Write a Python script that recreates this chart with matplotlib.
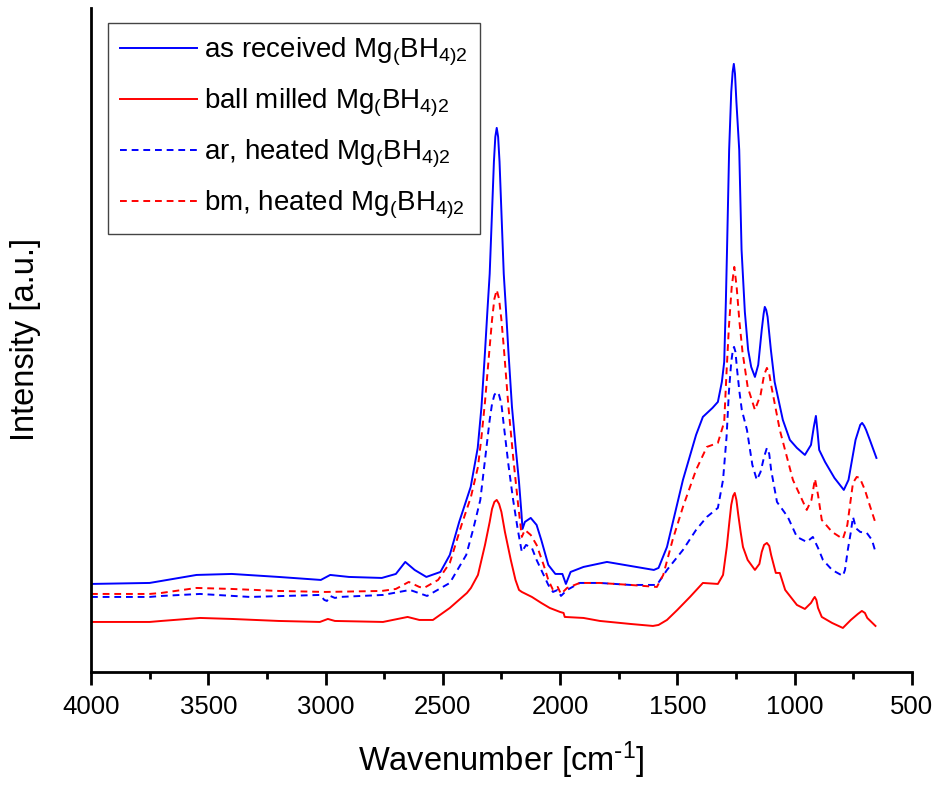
import matplotlib
matplotlib.use("Agg")
import matplotlib.pyplot as plt
from matplotlib.ticker import MultipleLocator
import numpy as np

plt.rcParams['font.family'] = ['Liberation Sans', 'DejaVu Sans']
plt.rcParams['mathtext.default'] = 'regular'

# as received Mg(BH4)2  (wavenumber, intensity a.u.)
ar_wn = [4000, 3750, 3700, 3600, 3550, 3400, 3200, 3020, 2980, 2900, 2760, 2700, 2660, 2620,
         2570, 2510, 2470, 2430, 2381, 2351, 2335, 2320, 2310, 2300, 2290, 2282, 2276, 2270,
         2264, 2258, 2250, 2240, 2230, 2220, 2205, 2189, 2175, 2165, 2160, 2150, 2125, 2100,
         2080, 2050, 2020, 1990, 1975, 1955, 1900, 1800, 1700, 1600, 1580, 1544, 1476, 1420,
         1391, 1350, 1327, 1310, 1300, 1293, 1288, 1279, 1270, 1264, 1259, 1254, 1248, 1236,
         1226, 1212, 1198, 1185, 1169, 1155, 1140, 1132, 1127, 1121, 1115, 1101, 1085, 1050,
         1020, 990, 956, 930, 918, 909, 902, 895, 870, 830, 790, 770, 740, 720, 712, 703,
         695, 679, 651]
ar_int = [88, 89, 91, 95, 97, 98, 95, 92, 97, 95, 94, 98, 110, 102,
          95, 100, 117, 150, 185, 224, 265, 320, 360, 398, 460, 510, 535, 544,
          535, 510, 460, 398, 360, 320, 265, 224, 190, 160, 143, 150, 154, 147,
          132, 107, 98, 98, 88, 100, 105, 110, 106, 102, 104, 125, 192, 237,
          255, 264, 270, 290, 310, 370, 422, 522, 580, 600, 608, 598, 570, 522,
          422, 360, 322, 305, 295, 307, 342, 358, 365, 362, 355, 322, 290, 252,
          232, 224, 217, 227, 245, 256, 240, 222, 210, 194, 182, 192, 232, 247, 249, 246,
          242, 232, 214]

# ball milled Mg(BH4)2
bm_wn = [4000, 3750, 3700, 3535, 3400, 3200, 3024, 2990, 2960, 2755, 2650, 2600, 2542, 2470,
         2397, 2380, 2350, 2320, 2300, 2290, 2280, 2270, 2260, 2250, 2235, 2210, 2190, 2175,
         2163, 2120, 2080, 2044, 2000, 1985, 1980, 1900, 1830, 1700, 1604, 1580, 1544, 1500,
         1446, 1391, 1327, 1305, 1289, 1278, 1270, 1262, 1255, 1248, 1240, 1230, 1220, 1200,
         1169, 1150, 1140, 1130, 1118, 1108, 1100, 1080, 1063, 1040, 990, 956, 930, 920, 914,
         907, 900, 884, 840, 794, 760, 730, 713, 700, 690, 655]
bm_int = [50, 50, 51, 54, 53, 51, 50, 53, 51, 50, 55, 52, 52, 64,
          79, 84, 97, 127, 150, 163, 170, 172, 168, 160, 140, 112, 92, 82,
          80, 75, 69, 64, 60, 59, 55, 54, 51, 48, 46, 47, 52, 62,
          75, 89, 88, 97, 125, 150, 167, 176, 179, 172, 157, 140, 125, 112,
          102, 108, 120, 127, 129, 126, 117, 99, 99, 82, 67, 63, 69, 73, 75,
          72, 64, 55, 49, 44, 52, 58, 61, 59, 54, 46]

# ar, heated Mg(BH4)2
arh_wn = [4000, 3750, 3700, 3535, 3322, 3024, 3005, 2994, 2980, 2960, 2940, 2755, 2640, 2567,
          2470, 2400, 2370, 2340, 2320, 2300, 2290, 2280, 2270, 2260, 2250, 2240, 2220, 2200,
          2180, 2163, 2145, 2120, 2100, 2070, 2050, 2030, 2010, 1996, 1970, 1916, 1830, 1700,
          1587, 1544, 1476, 1420, 1374, 1327, 1305, 1290, 1280, 1270, 1263, 1258, 1252, 1245,
          1235, 1225, 1203, 1180, 1161, 1145, 1130, 1118, 1108, 1100, 1075, 1029, 990, 948,
          922, 900, 879, 840, 794, 785, 773, 760, 751, 745, 740, 720, 692, 670, 655]
arh_int = [75, 75, 76, 78, 75, 77, 72, 71, 76, 74, 75, 77, 82, 76,
           89, 117, 143, 172, 212, 252, 268, 277, 280, 277, 268, 247, 207, 172,
           142, 120, 127, 124, 112, 97, 87, 80, 82, 76, 82, 89, 89, 87,
           87, 102, 122, 142, 155, 164, 192, 235, 280, 310, 322, 325, 320, 302,
           280, 262, 242, 207, 192, 200, 215, 224, 218, 202, 170, 155, 135, 130,
           135, 124, 112, 102, 96, 102, 122, 140, 155, 150, 144, 140, 139, 132, 120]

# bm, heated Mg(BH4)2
bmh_wn = [4000, 3750, 3700, 3550, 3400, 3200, 3000, 2760, 2700, 2645, 2600, 2580, 2520, 2470,
          2420, 2380, 2350, 2335, 2320, 2300, 2290, 2280, 2270, 2260, 2250, 2240, 2220, 2200,
          2180, 2163, 2150, 2125, 2100, 2070, 2050, 2030, 2010, 1996, 1970, 1916, 1830, 1700,
          1587, 1560, 1520, 1476, 1420, 1374, 1327, 1300, 1290, 1280, 1268, 1257, 1247, 1235,
          1222, 1200, 1169, 1145, 1130, 1118, 1108, 1100, 1063, 1007, 948, 928, 913, 900, 884,
          840, 794, 775, 751, 735, 722, 700, 680, 655]
bmh_int = [78, 78, 79, 84, 83, 81, 80, 81, 83, 90, 85, 84, 92, 109,
           147, 175, 205, 235, 270, 325, 352, 373, 382, 373, 352, 325, 265, 215,
           170, 135, 142, 137, 127, 107, 92, 82, 85, 78, 84, 89, 89, 87,
           85, 97, 132, 165, 202, 225, 229, 250, 300, 345, 385, 405, 385, 350,
           320, 285, 262, 277, 297, 304, 298, 287, 242, 192, 162, 172, 193, 177, 152,
           140, 133, 147, 189, 195, 194, 182, 167, 149]

labels = [r'as received Mg$_($BH$_{4)2}$',
          r'ball milled Mg$_($BH$_{4)2}$',
          r'ar, heated Mg$_($BH$_{4)2}$',
          r'bm, heated Mg$_($BH$_{4)2}$']

fig = plt.figure(figsize=(9.41, 7.85), dpi=100)
ax = fig.add_axes([0.0967, 0.144, 0.8723, 0.846])

ax.plot(ar_wn, ar_int, color='#0000ff', lw=1.4, label=labels[0])
ax.plot(bm_wn, bm_int, color='#ff0000', lw=1.4, label=labels[1])
ax.plot(arh_wn, arh_int, color='#0000ff', lw=1.4, dashes=(3.5, 2.5), label=labels[2])
ax.plot(bmh_wn, bmh_int, color='#ff0000', lw=1.4, dashes=(3.5, 2.5), label=labels[3])

ax.set_xlim(4000, 500)
ax.set_ylim(0, 664)
ax.xaxis.set_major_locator(MultipleLocator(500))
ax.xaxis.set_minor_locator(MultipleLocator(250))
ax.set_yticks([])
ax.spines['top'].set_visible(False)
ax.spines['right'].set_visible(False)
ax.spines['left'].set_linewidth(2)
ax.spines['bottom'].set_linewidth(2)
ax.tick_params(axis='x', which='major', direction='out', length=9.5, width=2,
               labelsize=18.5, pad=7)
ax.tick_params(axis='x', which='minor', direction='out', length=5, width=2)

ax.set_xlabel(r'Wavenumber [cm$^{\text{-}1}$]', fontsize=23.5, labelpad=15)
ax.set_ylabel('Intensity [a.u.]', fontsize=23.5, labelpad=36)

leg = ax.legend(loc='upper left', bbox_to_anchor=(0.0207, 0.977), borderaxespad=0,
                fontsize=20, handlelength=2.75, labelspacing=0.68, fancybox=False,
                framealpha=1, borderpad=0.45, handletextpad=0.25)
leg.get_frame().set_edgecolor('#444444')
leg.get_frame().set_linewidth(1)

fig.savefig('out.png', dpi=100)
